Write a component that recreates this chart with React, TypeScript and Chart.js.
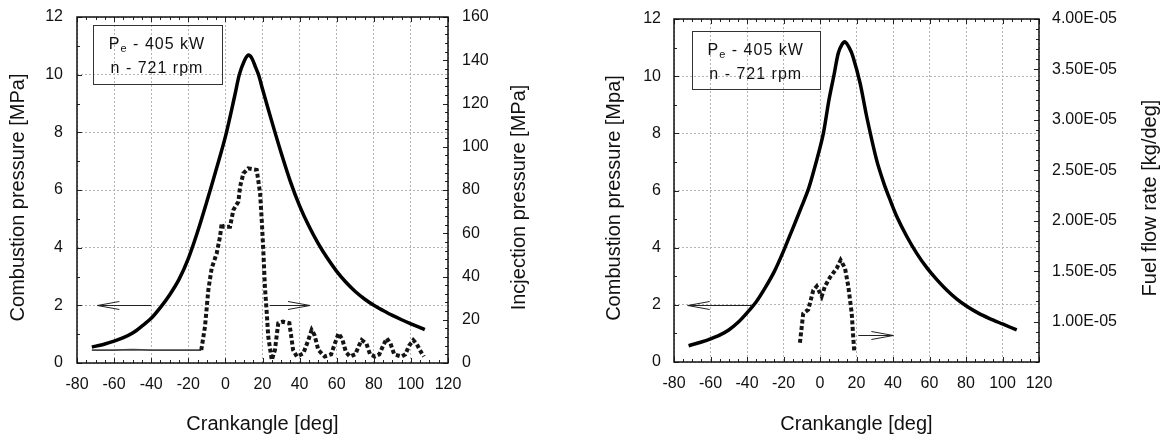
import React, { useEffect, useRef } from "react";
import { Chart, registerables } from "chart.js";

Chart.register(...registerables);

const FONT = "'Liberation Sans', Arial, Helvetica, sans-serif";
const INK = "#111111";

// ---------- axis ticks ----------
const crankTicks = [-80, -60, -40, -20, 0, 20, 40, 60, 80, 100, 120];
const crankTickLabels = ["-80", "-60", "-40", "-20", "0", "20", "40", "60", "80", "100", "120"];
const pressureTicks = [0, 2, 4, 6, 8, 10, 12];
const pressureTickLabels = ["0", "2", "4", "6", "8", "10", "12"];
const injectionTicks = [0, 20, 40, 60, 80, 100, 120, 140, 160];
const injectionTickLabels = ["0", "20", "40", "60", "80", "100", "120", "140", "160"];
const fuelTicks = [1.0e-5, 1.5e-5, 2.0e-5, 2.5e-5, 3.0e-5, 3.5e-5, 4.0e-5];
const fuelTickLabels = ["1.00E-05", "1.50E-05", "2.00E-05", "2.50E-05", "3.00E-05", "3.50E-05", "4.00E-05"];

// ---------- left chart: combustion pressure [MPa] ----------
const crankA = [-72, -65, -60, -55, -50, -45, -40, -35, -30, -25, -20, -15, -10, -5, 0, 5, 7.5, 10, 12.3, 14, 16, 18, 20, 25, 30, 35, 40, 45, 50, 55, 60, 65, 70, 75, 80, 85, 90, 95, 100, 105, 107.5];
const combustionA = [0.55, 0.66, 0.76, 0.88, 1.04, 1.28, 1.55, 1.93, 2.37, 2.9, 3.62, 4.55, 5.6, 6.7, 7.85, 9.26, 10.0, 10.45, 10.68, 10.6, 10.3, 9.97, 9.5, 8.38, 7.3, 6.3, 5.45, 4.75, 4.15, 3.63, 3.18, 2.8, 2.48, 2.22, 2.0, 1.82, 1.65, 1.5, 1.36, 1.23, 1.16];

// ---------- left chart: injection pressure [MPa] ----------
const crankInj = [-72, -60, -50, -40, -30, -20, -13, -11, -9.2, -7.4, -4.7, -2.9, -2, -1.3, 2.5, 4.3, 7, 7.9, 9.7, 12.3, 16.9, 18.7, 19.6, 20.5, 21.3, 22.3, 23.1, 25, 26.7, 28.5, 31, 34.5, 36.5, 38.5, 42, 44.7, 46.5, 48, 50.1, 53.5, 57, 59, 61, 63, 65, 67.2, 70, 72, 73.5, 76, 78, 80.6, 83, 85, 87, 89, 91, 95, 97, 99, 101.3, 103, 105.5, 107];
const injection = [6, 6, 6.2, 6, 6, 6, 6, 16.8, 33.8, 43.8, 50.7, 58.4, 64.6, 63, 63, 70.8, 74.6, 81.5, 87.7, 90, 89.3, 78.5, 66, 50.7, 35.3, 23, 12.2, 1.4, 6, 18.4, 19.1, 18.4, 6, 3, 4.4, 10.6, 15.3, 13, 6, 3, 4, 9, 13.7, 11, 5, 3, 4, 8, 10.6, 9, 4, 3, 4, 8, 11.4, 9, 4, 3, 4, 8, 10.6, 9, 5, 3];

// ---------- right chart: combustion pressure [MPa] ----------
const crankB = [-72, -65, -60, -55, -50, -45, -40, -35, -30, -25, -20, -15, -10, -6.5, -4, 0, 2, 5, 7.7, 10, 12, 13.7, 16, 18, 22, 25.6, 31, 35, 38.4, 42, 47.5, 53, 58.5, 64, 69.4, 75, 80.4, 87, 93, 100, 107.8];
const combustionB = [0.57, 0.7, 0.81, 0.94, 1.12, 1.38, 1.72, 2.1, 2.6, 3.17, 3.88, 4.66, 5.45, 6.02, 6.55, 7.5, 8.05, 9.2, 10.05, 10.8, 11.1, 11.2, 11.0, 10.7, 9.75, 8.58, 7.07, 6.25, 5.67, 5.1, 4.4, 3.8, 3.3, 2.88, 2.52, 2.2, 1.95, 1.7, 1.52, 1.33, 1.12];

// ---------- right chart: fuel flow rate [kg/deg] ----------
const crankFuel = [-11, -9.2, -6.4, -3.7, -1.8, 0.9, 2.7, 5.5, 9.2, 11.3, 13.7, 15.5, 17.4, 18.2, 18.8];
const fuelRate = [7.9e-6, 1.08e-5, 1.12e-5, 1.31e-5, 1.35e-5, 1.25e-5, 1.35e-5, 1.44e-5, 1.53e-5, 1.61e-5, 1.53e-5, 1.35e-5, 1.08e-5, 8.5e-6, 7.0e-6];

// ---------- annotations (data units, left axis) ----------
const arrowsA = [
  { from: -40, to: -69, y: 2 },
  { from: 24, to: 45.6, y: 2 },
];
const arrowsB = [
  { from: -37.4, to: -72.5, y: 2 },
  { from: 21, to: 40.2, y: 0.95 },
];
const legendPower = ["P", "e", " - 405 kW"];
const legendSpeed = "n - 721 rpm";

const titlesA = {
  x: "Crankangle [deg]",
  left: "Combustion pressure [MPa]",
  right: "Incjection pressure [MPa]",
};
const titlesB = {
  x: "Crankangle [deg]",
  left: "Combustion pressure [Mpa]",
  right: "Fuel flow rate [kg/deg]",
};

const pts = (xs: number[], ys: number[]) => xs.map((x, i) => ({ x, y: ys[i] }));

function drawTicks(ctx: CanvasRenderingContext2D, chart: any, def: any) {
  const a = chart.chartArea;
  const s = chart.scales[def.id];
  const n = Math.round((def.max - def.min) / def.step);
  ctx.beginPath();
  for (let i = 0; i <= n; i++) {
    const v = def.min + i * def.step;
    const major = def.majors.some((m: number) => Math.abs(m - v) < def.step * 1e-3);
    const L = major ? 5 : 3;
    const p = Math.round(s.getPixelForValue(v)) + 0.5;
    for (const side of def.sides) {
      if (side === "bottom") { ctx.moveTo(p, a.bottom); ctx.lineTo(p, a.bottom - L); }
      if (side === "top") { ctx.moveTo(p, a.top); ctx.lineTo(p, a.top + L); }
      if (side === "left") { ctx.moveTo(a.left, p); ctx.lineTo(a.left + L, p); }
      if (side === "right") { ctx.moveTo(a.right, p); ctx.lineTo(a.right - L, p); }
    }
  }
  ctx.stroke();
}

const decorPlugin = {
  id: "decor",
  afterDraw(chart: any, _args: any, opts: any) {
    const ctx: CanvasRenderingContext2D = chart.ctx;
    const a = chart.chartArea;
    const xs = chart.scales.x;
    const ys = chart.scales.y;
    ctx.save();

    // ticks
    ctx.strokeStyle = "#222";
    ctx.lineWidth = 1;
    for (const def of opts.ticks) drawTicks(ctx, chart, def);

    // frame
    ctx.strokeStyle = INK;
    ctx.lineWidth = 1.5;
    ctx.strokeRect(a.left, a.top, a.right - a.left, a.bottom - a.top);

    // arrows
    ctx.strokeStyle = "#222";
    ctx.lineWidth = 1;
    for (const ar of opts.arrows) {
      const x1 = xs.getPixelForValue(ar.from);
      const x2 = xs.getPixelForValue(ar.to);
      const y = Math.round(ys.getPixelForValue(ar.y)) + 0.5;
      const dir = x2 > x1 ? 1 : -1;
      ctx.beginPath();
      ctx.moveTo(x1, y);
      ctx.lineTo(x2, y);
      ctx.moveTo(x2 - dir * 22, y - 4);
      ctx.lineTo(x2, y);
      ctx.lineTo(x2 - dir * 22, y + 4);
      ctx.stroke();
    }

    // legend box
    const b = opts.box;
    const bx = a.left + b.dx;
    const by = a.top + b.dy;
    ctx.strokeStyle = "#333";
    ctx.lineWidth = 1;
    ctx.strokeRect(Math.round(bx) + 0.5, Math.round(by) + 0.5, b.w, b.h);
    ctx.fillStyle = INK;
    ctx.textAlign = "left";
    ctx.textBaseline = "alphabetic";
    (ctx as any).letterSpacing = "1px";
    const big = `16px ${FONT}`;
    const small = `11px ${FONT}`;
    ctx.font = big;
    const wP = ctx.measureText(legendPower[0]).width;
    const wR = ctx.measureText(legendPower[2]).width;
    ctx.font = small;
    const wE = ctx.measureText(legendPower[1]).width;
    const cx = bx + b.w / 2;
    let tx = cx - (wP + wE + wR) / 2;
    const b1 = by + 23.5;
    ctx.font = big;
    ctx.fillText(legendPower[0], tx, b1);
    tx += wP;
    ctx.font = small;
    ctx.fillText(legendPower[1], tx, b1 + 3);
    tx += wE;
    ctx.font = big;
    ctx.fillText(legendPower[2], tx, b1);
    const w2 = ctx.measureText(legendSpeed).width;
    ctx.fillText(legendSpeed, cx - w2 / 2, by + 48);
    (ctx as any).letterSpacing = "0px";

    // axis titles
    ctx.font = `20px ${FONT}`;
    ctx.textAlign = "center";
    ctx.textBaseline = "middle";
    ctx.fillStyle = INK;
    const t = opts.titles;
    ctx.fillText(t.x, (a.left + a.right) / 2, t.xY);
    for (const [txt, px] of [[t.left, t.leftX], [t.right, t.rightX]] as [string, number][]) {
      ctx.save();
      ctx.translate(px, t.vY);
      ctx.rotate(-Math.PI / 2);
      ctx.fillText(txt, 0, 0);
      ctx.restore();
    }
    ctx.restore();
  },
};

const tickFont = { family: FONT, size: 16, lineHeight: 1.2 };
const gridStyle = { color: "#b4b4b4", lineWidth: 1, drawTicks: false };

const zeroPad = (s: any) => {
  s.paddingTop = 0;
  s.paddingBottom = 0;
  s.paddingLeft = 0;
  s.paddingRight = 0;
};

function makeConfig(side: "A" | "B"): any {
  const isA = side === "A";
  const dims = isA
    ? { yW: 77, y2W: 136, xH: 73, top: 17 }
    : { yW: 90, y2W: 129, xH: 74, top: 19 };
  const solid = {
    yAxisID: "y",
    borderColor: "#000",
    borderWidth: 3.5,
    pointRadius: 0,
    tension: 0.3,
    fill: false,
  };
  const dotted = {
    yAxisID: "y2",
    borderColor: "#141414",
    borderWidth: 4,
    borderDash: [4, 2.5],
    pointRadius: 0,
    tension: 0,
    fill: false,
  };
  const datasets: any[] = isA
    ? [
        { ...solid, data: pts(crankA, combustionA) },
        {
          ...dotted,
          data: pts(crankInj, injection),
          segment: {
            borderWidth: (c: any) => (c.p1.parsed.x <= -13 ? 1.8 : undefined),
            borderDash: (c: any) => (c.p1.parsed.x <= -13 ? [] : undefined),
            borderColor: (c: any) => (c.p1.parsed.x <= -13 ? "#444" : undefined),
          },
        },
      ]
    : [
        { ...solid, data: pts(crankB, combustionB) },
        { ...dotted, data: pts(crankFuel, fuelRate) },
      ];

  const y2Ticks = isA ? injectionTicks : fuelTicks;
  const y2Labels = isA ? injectionTickLabels : fuelTickLabels;
  const y2Min = isA ? 0 : 6e-6;
  const y2Max = isA ? 160 : 4e-5;

  return {
    type: "line",
    data: { datasets },
    options: {
      animation: false,
      responsive: false,
      devicePixelRatio: 1,
      events: [],
      layout: { padding: { top: dims.top, left: 0, right: 0, bottom: 0 } },
      plugins: {
        legend: { display: false },
        tooltip: { enabled: false },
        decor: {
          ticks: [
            { id: "x", min: -80, max: 120, step: 5, majors: crankTicks, sides: ["bottom", "top"] },
            { id: "y", min: 0, max: 12, step: 1, majors: pressureTicks, sides: ["left"] },
            isA
              ? { id: "y2", min: 0, max: 160, step: 4, majors: injectionTicks, sides: ["right"] }
              : { id: "y2", min: 6e-6, max: 4e-5, step: 1e-6, majors: fuelTicks, sides: ["right"] },
          ],
          arrows: isA ? arrowsA : arrowsB,
          box: isA ? { dx: 15.5, dy: 8, w: 129, h: 59 } : { dx: 17.7, dy: 12, w: 128, h: 58 },
          titles: isA
            ? { ...titlesA, xY: 424.5, vY: 197.5, leftX: 18.5, rightX: 519 }
            : { ...titlesB, xY: 424.5, vY: 198, leftX: 30, rightX: 566.7 },
        },
      },
      scales: {
        x: {
          type: "linear",
          min: -80,
          max: 120,
          afterBuildTicks: (s: any) => {
            s.ticks = crankTicks.map((v) => ({ value: v }));
          },
          afterFit: (s: any) => {
            s.height = dims.xH;
            zeroPad(s);
          },
          ticks: {
            font: tickFont,
            color: INK,
            padding: 12,
            maxRotation: 0,
            autoSkip: false,
            callback: (_v: any, i: number) => crankTickLabels[i],
          },
          grid: gridStyle,
          border: { display: false, dash: [2, 2] },
        },
        y: {
          type: "linear",
          position: "left",
          min: 0,
          max: 12,
          afterBuildTicks: (s: any) => {
            s.ticks = pressureTicks.map((v) => ({ value: v }));
          },
          afterFit: (s: any) => {
            s.width = dims.yW;
            zeroPad(s);
          },
          ticks: {
            font: tickFont,
            color: INK,
            padding: isA ? 14 : 13,
            autoSkip: false,
            callback: (_v: any, i: number) => pressureTickLabels[i],
          },
          grid: gridStyle,
          border: { display: false, dash: [2, 2] },
        },
        y2: {
          type: "linear",
          position: "right",
          min: y2Min,
          max: y2Max,
          afterBuildTicks: (s: any) => {
            s.ticks = y2Ticks.map((v) => ({ value: v }));
          },
          afterFit: (s: any) => {
            s.width = dims.y2W;
            zeroPad(s);
          },
          ticks: {
            font: tickFont,
            color: INK,
            padding: isA ? 14 : 13,
            autoSkip: false,
            callback: (_v: any, i: number) => y2Labels[i],
          },
          grid: { display: false, drawTicks: false },
          border: { display: false },
        },
      },
    },
    plugins: [decorPlugin],
  };
}

export default function App() {
  const leftRef = useRef<HTMLCanvasElement>(null);
  const rightRef = useRef<HTMLCanvasElement>(null);

  useEffect(() => {
    const c1 = new Chart(leftRef.current as HTMLCanvasElement, makeConfig("A"));
    const c2 = new Chart(rightRef.current as HTMLCanvasElement, makeConfig("B"));
    return () => {
      c1.destroy();
      c2.destroy();
    };
  }, []);

  return (
    <div style={{ position: "absolute", left: 0, top: 0, width: 1168, height: 436, background: "#fff" }}>
      <canvas ref={leftRef} width={584} height={436} style={{ position: "absolute", left: 0, top: 0 }} />
      <canvas ref={rightRef} width={584} height={436} style={{ position: "absolute", left: 584, top: 0 }} />
    </div>
  );
}
